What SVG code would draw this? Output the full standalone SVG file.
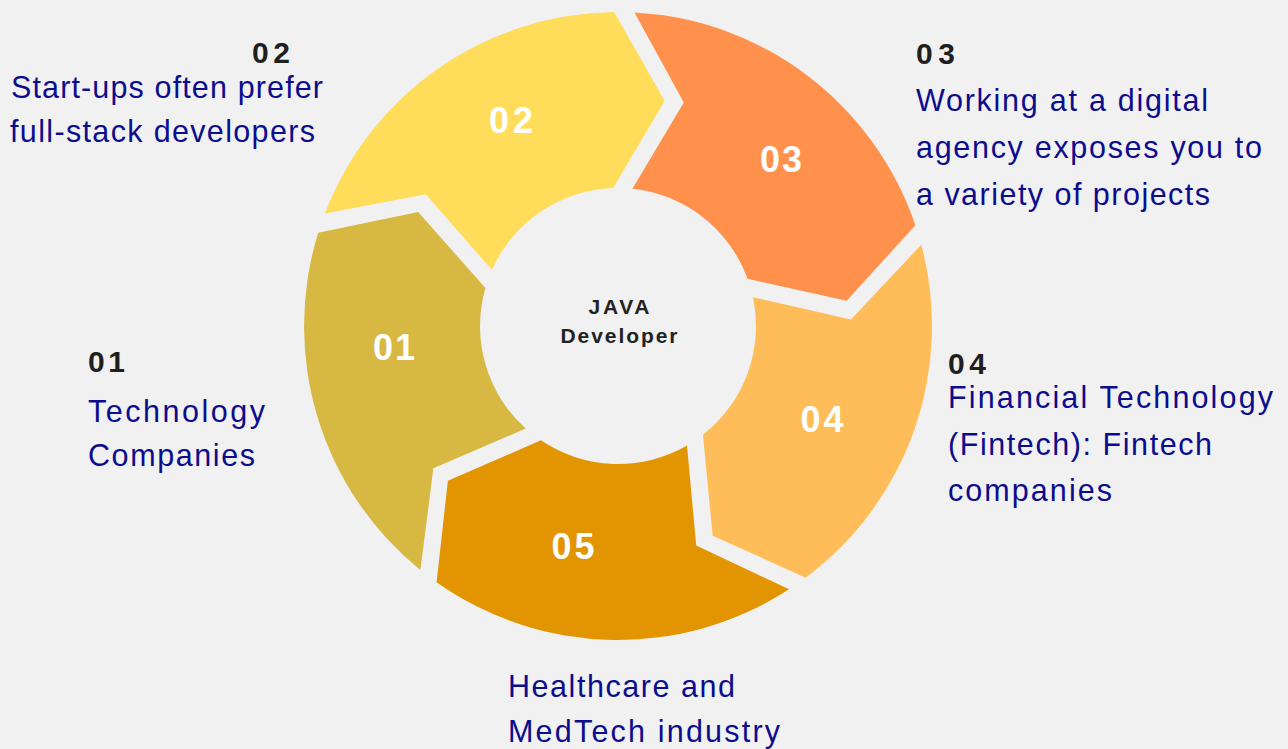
<svg xmlns="http://www.w3.org/2000/svg" width="1288" height="749" viewBox="0 0 1288 749">
  <defs>
    <style>
      .num { font-family: "Liberation Sans", Arial, sans-serif; font-weight: bold; font-size: 36px; fill: #ffffff; text-anchor: middle; }
      .hdr { font-family: "Liberation Sans", Arial, sans-serif; font-weight: bold; font-size: 30px; fill: #1f1f1f; }
      .lbl { font-family: "Liberation Sans", Arial, sans-serif; font-size: 30.5px; fill: #0c0c8e; }
      .ctr { font-family: "Liberation Sans", Arial, sans-serif; font-weight: bold; font-size: 21px; fill: #222222; text-anchor: middle; }
    </style>
    <path id="seg" d="M 314 0 A 314 314 0 0 1 116.1 291.7 L 37.2 227.0 L 53.9 127.0 A 138 138 0 0 0 137.8 7.2 L 226.7 54.0 Z"/>
  </defs>
  <rect x="0" y="0" width="1288" height="749" fill="#f1f1f1"/>

  <g id="node-01">
    <use href="#seg" transform="translate(618,326) rotate(129)" fill="#d7b842"/>
    <text class="num" x="394" y="360" textLength="42" lengthAdjust="spacing">01</text>
  </g>
  <g id="node-02">
    <use href="#seg" transform="translate(618,326) rotate(201)" fill="#ffdd5a"/>
    <text class="num" x="511" y="133" textLength="44" lengthAdjust="spacing">02</text>
  </g>
  <g id="node-03">
    <use href="#seg" transform="translate(618,326) rotate(273)" fill="#ff914d"/>
    <text class="num" x="781" y="172" textLength="42" lengthAdjust="spacing">03</text>
  </g>
  <g id="node-04">
    <use href="#seg" transform="translate(618,326) rotate(345)" fill="#ffbd59"/>
    <text class="num" x="822" y="432" textLength="43" lengthAdjust="spacing">04</text>
  </g>
  <g id="node-05">
    <use href="#seg" transform="translate(618,326) rotate(57)" fill="#e29500"/>
    <text class="num" x="573" y="559" textLength="43" lengthAdjust="spacing">05</text>
  </g>

  <g id="center">
    <text class="ctr" x="619" y="314" textLength="61" lengthAdjust="spacing">JAVA</text>
    <text class="ctr" x="619" y="343" textLength="117" lengthAdjust="spacing">Developer</text>
  </g>

  <g id="connectors"></g>

  <g id="label-01">
    <text class="hdr" x="88" y="372" textLength="37" lengthAdjust="spacing">01</text>
    <text class="lbl" x="88" y="422" textLength="177" lengthAdjust="spacing">Technology</text>
    <text class="lbl" x="88" y="466" textLength="167" lengthAdjust="spacing">Companies</text>
  </g>
  <g id="label-02">
    <text class="hdr" x="252" y="63" textLength="38" lengthAdjust="spacing">02</text>
    <text class="lbl" x="11" y="98" textLength="312" lengthAdjust="spacing">Start-ups often prefer</text>
    <text class="lbl" x="10" y="142" textLength="305" lengthAdjust="spacing">full-stack developers</text>
  </g>
  <g id="label-03">
    <text class="hdr" x="916" y="64" textLength="39" lengthAdjust="spacing">03</text>
    <text class="lbl" x="916" y="111" textLength="292" lengthAdjust="spacing">Working at a digital</text>
    <text class="lbl" x="916" y="158" textLength="346" lengthAdjust="spacing">agency exposes you to</text>
    <text class="lbl" x="916" y="205" textLength="294" lengthAdjust="spacing">a variety of projects</text>
  </g>
  <g id="label-04">
    <text class="hdr" x="948" y="374" textLength="38" lengthAdjust="spacing">04</text>
    <text class="lbl" x="948" y="408" textLength="325" lengthAdjust="spacing">Financial Technology</text>
    <text class="lbl" x="948" y="455" textLength="264" lengthAdjust="spacing">(Fintech): Fintech</text>
    <text class="lbl" x="948" y="501" textLength="164" lengthAdjust="spacing">companies</text>
  </g>
  <g id="label-05">
    <text class="lbl" x="508" y="697" textLength="227" lengthAdjust="spacing">Healthcare and</text>
    <text class="lbl" x="508" y="742" textLength="272" lengthAdjust="spacing">MedTech industry</text>
  </g>
</svg>
